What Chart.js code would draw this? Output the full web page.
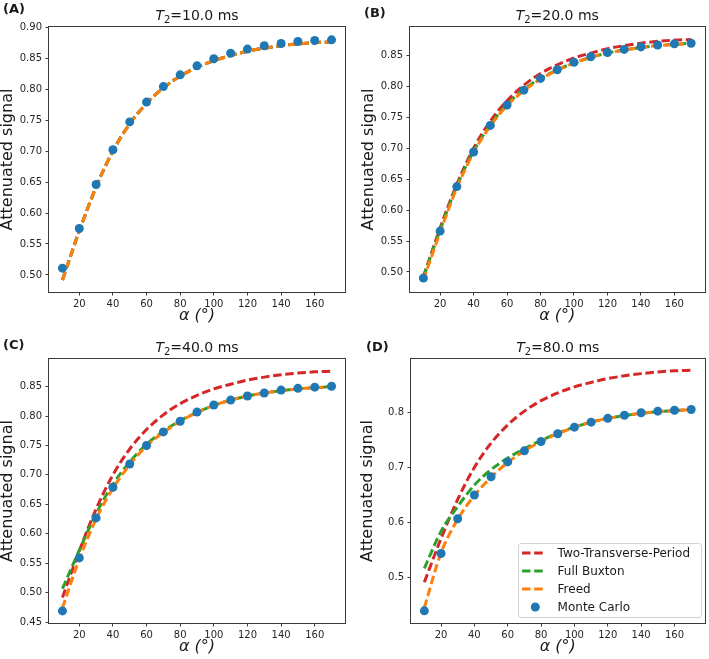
<!DOCTYPE html>
<html>
<head>
<meta charset="utf-8">
<script src="https://cdn.jsdelivr.net/npm/chart.js@4.4.1/dist/chart.umd.min.js"></script>
<style>
  html, body { margin: 0; padding: 0; background: #fff; }
  body { width: 709px; height: 659px; position: relative; overflow: hidden;
         font-family: "DejaVu Sans", sans-serif; color: #1a1a1a; }
  canvas { position: absolute; }
  .tag { position: absolute; font-weight: bold; font-size: 13px; line-height: 13px; white-space: nowrap; }
  .ttl { position: absolute; font-size: 14px; line-height: 14px; text-align: center; white-space: nowrap; }
  .ttl sub { font-size: 10px; position: relative; top: 3px; vertical-align: baseline; }
  #legend { position: absolute; left: 518px; top: 543px; width: 184px; height: 75px; box-sizing: border-box;
            border: 1px solid #d3d3d3; border-radius: 3px; background: rgba(255,255,255,0.85); }
  #legend .row { height: 17.9px; display: flex; align-items: center; font-size: 12px; white-space: nowrap; }
  #legend svg { margin-left: 3px; margin-right: 14.6px; flex: none; }
</style>
</head>
<body>
<div id="legend"></div>
<script>
'use strict';

// ─── Data ───────────────────────────────────────────────────────────────────
const alpha  = [10, 20, 30, 40, 50, 60, 70, 80, 90, 100, 110, 120, 130, 140, 150, 160, 170];
const xTicks = [20, 40, 60, 80, 100, 120, 140, 160];

// Two-Transverse-Period model does not depend on T2
const twoPeriod = [0.492, 0.571, 0.642, 0.700, 0.744, 0.777, 0.802, 0.821, 0.835, 0.846, 0.854, 0.861, 0.866, 0.870, 0.873, 0.875, 0.876];

// T2 = 10 ms
const mcA     = [0.511, 0.575, 0.646, 0.702, 0.747, 0.779, 0.804, 0.823, 0.8375, 0.849, 0.858, 0.8645, 0.870, 0.8736, 0.8768, 0.8785, 0.8795];
const buxtonA = [0.492, 0.571, 0.642, 0.700, 0.744, 0.777, 0.802, 0.821, 0.835, 0.846, 0.854, 0.861, 0.866, 0.870, 0.873, 0.875, 0.876];
const freedA  = [0.492, 0.571, 0.642, 0.700, 0.744, 0.777, 0.802, 0.821, 0.835, 0.846, 0.854, 0.861, 0.866, 0.870, 0.873, 0.875, 0.876];

// T2 = 20 ms
const mcB     = [0.490, 0.566, 0.638, 0.694, 0.737, 0.770, 0.794, 0.813, 0.827, 0.839, 0.848, 0.855, 0.860, 0.864, 0.867, 0.869, 0.870];
const buxtonB = [0.492, 0.568, 0.639, 0.695, 0.738, 0.771, 0.795, 0.813, 0.827, 0.838, 0.847, 0.854, 0.859, 0.863, 0.866, 0.868, 0.870];
const freedB  = [0.487, 0.564, 0.636, 0.693, 0.736, 0.769, 0.793, 0.812, 0.826, 0.838, 0.847, 0.854, 0.859, 0.863, 0.866, 0.868, 0.869];

// T2 = 40 ms
const mcC     = [0.469, 0.559, 0.627, 0.679, 0.7185, 0.750, 0.773, 0.791, 0.8066, 0.8186, 0.827, 0.834, 0.839, 0.844, 0.847, 0.849, 0.8505];
const buxtonC = [0.507, 0.572, 0.634, 0.684, 0.722, 0.752, 0.774, 0.792, 0.806, 0.818, 0.827, 0.834, 0.839, 0.843, 0.846, 0.848, 0.850];
const freedC  = [0.474, 0.557, 0.625, 0.677, 0.717, 0.749, 0.772, 0.791, 0.806, 0.818, 0.827, 0.834, 0.839, 0.843, 0.846, 0.848, 0.850];

// T2 = 80 ms
const mcD     = [0.440, 0.544, 0.607, 0.650, 0.683, 0.710, 0.730, 0.747, 0.761, 0.773, 0.782, 0.789, 0.7945, 0.799, 0.802, 0.8036, 0.805];
const buxtonD = [0.517, 0.584, 0.629, 0.668, 0.696, 0.717, 0.734, 0.749, 0.762, 0.773, 0.782, 0.789, 0.794, 0.798, 0.801, 0.803, 0.805];
const freedD  = [0.446, 0.545, 0.606, 0.649, 0.682, 0.709, 0.730, 0.747, 0.761, 0.773, 0.782, 0.789, 0.794, 0.798, 0.801, 0.803, 0.805];

const yTicksA = [0.50, 0.55, 0.60, 0.65, 0.70, 0.75, 0.80, 0.85, 0.90];
const yTicksB = [0.50, 0.55, 0.60, 0.65, 0.70, 0.75, 0.80, 0.85];
const yTicksC = [0.45, 0.50, 0.55, 0.60, 0.65, 0.70, 0.75, 0.80, 0.85];
const yTicksD = [0.5, 0.6, 0.7, 0.8];

const seriesLabels = ['Two-Transverse-Period', 'Full Buxton', 'Freed', 'Monte Carlo'];

// ─── Look ───────────────────────────────────────────────────────────────────
const FONT = '"DejaVu Sans", sans-serif';
const C = { red: '#d62728', green: '#2ca02c', orange: '#ff7f0e', blue: '#1f77b4', ink: '#1a1a1a', tick: '#262626', spine: '#3a3a3a' };
const DASH = [8.5, 3.7];

const panels = [
  { tag: '(A)', t2: '10.0', mc: mcA, buxton: buxtonA, freed: freedA, yTicks: yTicksA, dec: 2, yMin: 0.4725, yMax: 0.9002,
    box: { l: 0, t: 0, w: 354, h: 330 }, pad: { top: 27, right: 9 }, yW: 49, xH: 38, yTitlePad: 0, xTitlePad: 4.4,
    tagPos: { l: 3, t: 2.2 }, titleTop: 8 },
  { tag: '(B)', t2: '20.0', mc: mcB, buxton: buxtonB, freed: freedB, yTicks: yTicksB, dec: 2, yMin: 0.4675, yMax: 0.8962,
    box: { l: 354, t: 0, w: 355, h: 330 }, pad: { top: 27, right: 2 }, yW: 56, xH: 38, yTitlePad: 6.5, xTitlePad: 4.4,
    tagPos: { l: 364, t: 6.2 }, titleTop: 8 },
  { tag: '(C)', t2: '40.0', mc: mcC, buxton: buxtonC, freed: freedC, yTicks: yTicksC, dec: 2, yMin: 0.4485, yMax: 0.8968,
    box: { l: 0, t: 330, w: 354, h: 329 }, pad: { top: 29, right: 9 }, yW: 49, xH: 36, yTitlePad: 0, xTitlePad: 2.4,
    tagPos: { l: 3, t: 338 }, titleTop: 339.5 },
  { tag: '(D)', t2: '80.0', mc: mcD, buxton: buxtonD, freed: freedD, yTicks: yTicksD, dec: 1, yMin: 0.418, yMax: 0.8965,
    box: { l: 354, t: 330, w: 355, h: 329 }, pad: { top: 29, right: 2 }, yW: 57, xH: 36, yTitlePad: 6, xTitlePad: 2.4,
    tagPos: { l: 366, t: 339.6 }, titleTop: 339.5, legend: true },
];

// Matplotlib-style full box around the axes
const framePlugin = {
  id: 'frame',
  afterDatasetsDraw(chart) {
    const { ctx, chartArea: a } = chart;
    ctx.save();
    ctx.strokeStyle = C.spine;
    ctx.lineWidth = 1;
    ctx.strokeRect(Math.round(a.left) - 0.5, Math.round(a.top) - 0.5, Math.round(a.width) + 1, Math.round(a.height) + 1);
    ctx.restore();
  }
};

function pts(ys) {
  return alpha.map((x, i) => ({ x: x, y: ys[i] }));
}

function lineSet(label, ys, color, order) {
  return {
    label: label, data: pts(ys), showLine: true, borderColor: color, backgroundColor: color,
    borderWidth: 3, borderDash: DASH, pointRadius: 0, cubicInterpolationMode: 'monotone', order: order
  };
}

function makePanel(p) {
  const canvas = document.createElement('canvas');
  canvas.width = p.box.w;
  canvas.height = p.box.h;
  canvas.style.left = p.box.l + 'px';
  canvas.style.top = p.box.t + 'px';
  document.body.appendChild(canvas);

  const chart = new Chart(canvas, {
    type: 'scatter',
    data: {
      datasets: [
        lineSet(seriesLabels[0], twoPeriod, C.red, 4),
        lineSet(seriesLabels[1], p.buxton, C.green, 3),
        lineSet(seriesLabels[2], p.freed, C.orange, 2),
        { label: seriesLabels[3], data: pts(p.mc), showLine: false, backgroundColor: C.blue, borderWidth: 0,
          pointRadius: 4.5, order: 1 },
      ]
    },
    options: {
      responsive: false,
      animation: false,
      events: [],
      layout: { padding: { top: p.pad.top, right: p.pad.right, left: 0, bottom: 0 } },
      plugins: { legend: { display: false }, tooltip: { enabled: false }, title: { display: false } },
      scales: {
        x: {
          type: 'linear', min: 2, max: 178,
          afterBuildTicks: s => { s.ticks = xTicks.map(v => ({ value: v })); },
          afterFit: s => { s.height = p.xH; },
          ticks: { font: { family: FONT, size: 10 }, color: C.tick, padding: 3, maxRotation: 0, autoSkip: false },
          grid: { drawOnChartArea: false, tickLength: 3.5, color: C.spine, lineWidth: 1 },
          border: { display: false },
          title: { display: true, text: 'α (°)', color: C.ink, font: { family: FONT, size: 16, style: 'italic', lineHeight: 1.2 },
                   padding: { top: 0, bottom: p.xTitlePad } }
        },
        y: {
          type: 'linear', min: p.yMin, max: p.yMax,
          afterBuildTicks: s => { s.ticks = p.yTicks.map(v => ({ value: v })); },
          afterFit: s => { s.width = p.yW; },
          ticks: { font: { family: FONT, size: 10 }, color: C.tick, padding: 3.5, autoSkip: false,
                   callback: v => Number(v).toFixed(p.dec) },
          grid: { drawOnChartArea: false, tickLength: 3.5, color: C.spine, lineWidth: 1 },
          border: { display: false },
          title: { display: true, text: 'Attenuated signal', color: C.ink, font: { family: FONT, size: 16, lineHeight: 1 },
                   padding: { top: p.yTitlePad, bottom: 0 } }
        }
      }
    },
    plugins: [framePlugin]
  });

  const a = chart.chartArea;
  const ttl = document.createElement('div');
  ttl.className = 'ttl';
  ttl.style.left = (p.box.l + a.left) + 'px';
  ttl.style.width = a.width + 'px';
  ttl.style.top = p.titleTop + 'px';
  ttl.innerHTML = '<i>T</i><sub>2</sub>=' + p.t2 + ' ms';
  document.body.appendChild(ttl);

  const tag = document.createElement('div');
  tag.className = 'tag';
  tag.style.left = p.tagPos.l + 'px';
  tag.style.top = p.tagPos.t + 'px';
  tag.textContent = p.tag;
  document.body.appendChild(tag);

  if (p.legend) buildLegend(chart);
}

// ─── Legend (built from the chart's own datasets) ──────────────────────────
function buildLegend(chart) {
  const box = document.getElementById('legend');
  box.innerHTML = '';
  chart.data.datasets.forEach(ds => {
    const row = document.createElement('div');
    row.className = 'row';
    const mark = ds.showLine
      ? `<line x1="0" y1="9" x2="21" y2="9" stroke="${ds.borderColor}" stroke-width="3" stroke-dasharray="${ds.borderDash.join(' ')}"/>`
      : `<circle cx="13.3" cy="9" r="${ds.pointRadius}" fill="${ds.backgroundColor}"/>`;
    row.innerHTML = `<svg width="21" height="18">${mark}</svg><span>${ds.label}</span>`;
    box.appendChild(row);
  });
  box.parentNode.appendChild(box); // keep on top of the canvas
}

panels.forEach(makePanel);
</script>
</body>
</html>
